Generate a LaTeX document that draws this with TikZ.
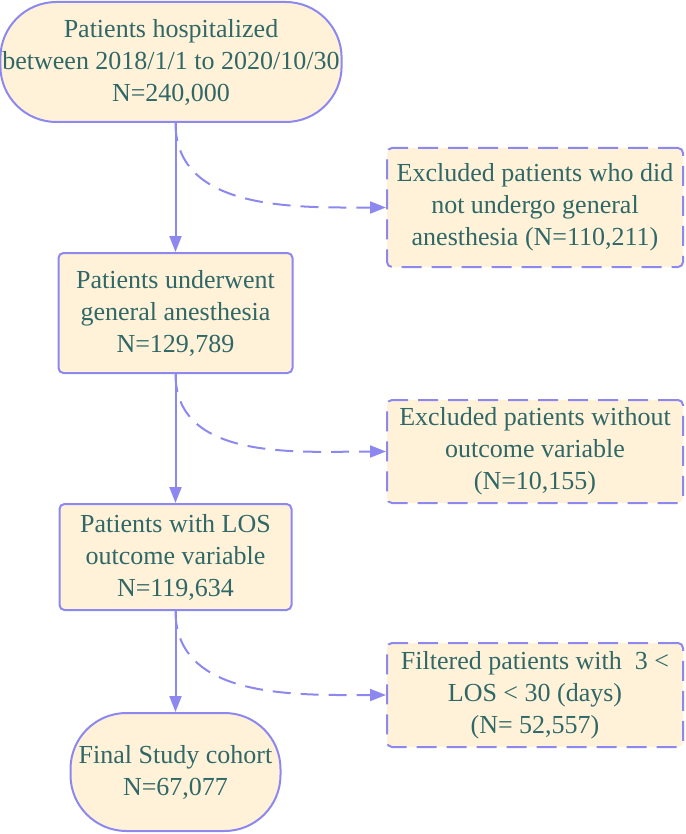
\documentclass[tikz,border=0pt]{standalone}
\usepackage{fontspec}
\setmainfont{Liberation Serif}
\usepackage{xcolor}
\usetikzlibrary{arrows.meta}

\definecolor{boxfill}{HTML}{FFF2D9}
\definecolor{boxline}{HTML}{8C88F0}
\definecolor{boxtext}{HTML}{2F6867}

\begin{document}
\begin{tikzpicture}[x=0.5pt, y=-0.5pt,
    every node/.style={font=\fontsize{13}{16}\selectfont, text=boxtext, align=center, inner sep=1pt},
    stage/.style={draw=boxline, line width=1pt, fill=boxfill, rounded corners=2.5pt},
    endpoint/.style={stage, rounded corners=28pt},
    excluded/.style={stage, dash pattern=on 10pt off 5pt},
    flow/.style={draw=boxline, line width=1pt, -{Triangle[length=8pt,width=6pt]}},
    drop/.style={flow, dash pattern=on 9pt off 5pt}]
    \useasboundingbox (0,0) rectangle (685,834);
    % Cohort stages
    \node[endpoint, minimum width=169pt, minimum height=60pt] (hosp) at (171,62) {Patients hospitalized\\between 2018/1/1 to 2020/10/30\\N=240,000};
    \node[stage, minimum width=117pt, minimum height=60pt] (ga) at (175.5,313) {Patients underwent\\general anesthesia\\N=129,789};
    \node[stage, minimum width=116pt, minimum height=53pt] (los) at (175.5,557) {Patients with LOS\\outcome variable\\N=119,634};
    \node[endpoint, minimum width=105pt, minimum height=59pt] (cohort) at (175.5,772) {Final Study cohort\\N=67,077};
    % Exclusions
    \node[excluded, minimum width=148pt, minimum height=59.5pt] (noga) at (535,207.5) {Excluded patients who did\\not undergo general\\anesthesia (N=110,211)};
    \node[excluded, minimum width=148pt, minimum height=51.5pt] (noout) at (535,451.5) {Excluded patients without\\outcome variable\\(N=10,155)};
    \node[excluded, minimum width=148pt, minimum height=52pt] (filt) at (535,695) {Filtered patients with \ 3 <\\LOS < 30 (days)\\(N= 52,557)};
    % Main flow
    \draw[flow] (ga.north |- hosp.south) -- (ga.north);
    \draw[flow] (ga) -- (los);
    \draw[flow] (los) -- (cohort);
    % Dropped patients
    \draw[drop] (ga.north |- hosp.south) to[out=-90, in=180] (noga.west);
    \draw[drop] (ga.south) to[out=-90, in=180] (noout.west);
    \draw[drop] (los.south) to[out=-90, in=180] (filt.west);
\end{tikzpicture}
\end{document}
